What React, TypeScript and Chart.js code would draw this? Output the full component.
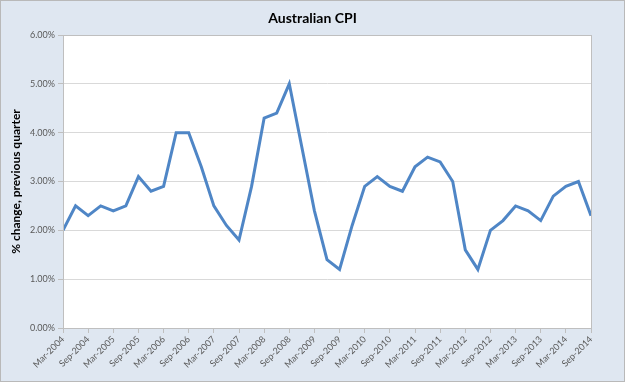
import React, { useEffect, useRef } from "react";
import { Chart, registerables } from "chart.js";

Chart.register(...registerables);

const quarters: string[] = [
  "Mar-2004", "Jun-2004", "Sep-2004", "Dec-2004",
  "Mar-2005", "Jun-2005", "Sep-2005", "Dec-2005",
  "Mar-2006", "Jun-2006", "Sep-2006", "Dec-2006",
  "Mar-2007", "Jun-2007", "Sep-2007", "Dec-2007",
  "Mar-2008", "Jun-2008", "Sep-2008", "Dec-2008",
  "Mar-2009", "Jun-2009", "Sep-2009", "Dec-2009",
  "Mar-2010", "Jun-2010", "Sep-2010", "Dec-2010",
  "Mar-2011", "Jun-2011", "Sep-2011", "Dec-2011",
  "Mar-2012", "Jun-2012", "Sep-2012", "Dec-2012",
  "Mar-2013", "Jun-2013", "Sep-2013", "Dec-2013",
  "Mar-2014", "Jun-2014", "Sep-2014",
];

const cpiChange: number[] = [
  2.0, 2.5, 2.3, 2.5,
  2.4, 2.5, 3.1, 2.8,
  2.9, 4.0, 4.0, 3.3,
  2.5, 2.1, 1.8, 2.9,
  4.3, 4.4, 5.0, 3.7,
  2.4, 1.4, 1.2, 2.1,
  2.9, 3.1, 2.9, 2.8,
  3.3, 3.5, 3.4, 3.0,
  1.6, 1.2, 2.0, 2.2,
  2.5, 2.4, 2.2, 2.7,
  2.9, 3.0, 2.3,
];

const title = "Australian CPI";
const yTitle = "% change, previous quarter";

const FONT = "Lato, 'Open Sans', 'DejaVu Sans', sans-serif";

const frame = {
  id: "plotFrame",
  afterDraw(chart: any) {
    const { ctx, chartArea } = chart;
    ctx.save();
    ctx.strokeStyle = "#BFBFBF";
    ctx.lineWidth = 1;
    ctx.strokeRect(
      Math.round(chartArea.left) + 0.5,
      Math.round(chartArea.top) + 0.5,
      Math.round(chartArea.right - chartArea.left),
      Math.round(chartArea.bottom - chartArea.top)
    );
    ctx.restore();
  },
};

const whitePlot = {
  id: "whitePlot",
  beforeDraw(chart: any) {
    const { ctx, chartArea } = chart;
    ctx.save();
    ctx.fillStyle = "#FFFFFF";
    ctx.fillRect(chartArea.left, chartArea.top, chartArea.right - chartArea.left, chartArea.bottom - chartArea.top);
    ctx.restore();
  },
};

const centeredTitle = {
  id: "centeredTitle",
  afterDraw(chart: any) {
    const { ctx } = chart;
    ctx.save();
    ctx.fillStyle = "#000000";
    ctx.font = `bold 14px ${FONT}`;
    ctx.textAlign = "center";
    ctx.textBaseline = "middle";
    ctx.fillText(title, chart.width / 2, 18);
    ctx.restore();
  },
};

export default function App() {
  const ref = useRef<HTMLCanvasElement | null>(null);

  useEffect(() => {
    document.body.style.margin = "0";
    if (!ref.current) return;
    const chart = new Chart(ref.current, {
      type: "line",
      data: {
        datasets: [
          {
            label: "CPI",
            data: cpiChange.map((v, i) => ({ x: i, y: v })),
            borderColor: "#4F86C6",
            borderWidth: 3,
            pointRadius: 0,
            tension: 0,
            fill: false,
          },
        ],
      },
      options: {
        responsive: false,
        animation: false,
        layout: { padding: { left: 0, right: 34, top: 35, bottom: 0 } },
        plugins: {
          legend: { display: false },
          tooltip: { enabled: false },
          title: { display: false },
        },
        scales: {
          x: {
            type: "linear",
            min: 0,
            max: quarters.length - 1,
            afterFit(scale: any) {
              scale.height = 54;
            },
            afterBuildTicks(scale: any) {
              const t = [];
              for (let i = 0; i < quarters.length; i += 2) t.push({ value: i });
              scale.ticks = t;
            },
            ticks: {
              autoSkip: false,
              minRotation: 45,
              maxRotation: 45,
              padding: 1,
              color: "#595959",
              font: { family: FONT, size: 9 },
              callback: (v: any) => quarters[v] ?? "",
            },
            grid: {
              display: true,
              drawOnChartArea: false,
              drawTicks: true,
              tickLength: 5,
              color: "#BFBFBF",
              tickColor: "#BFBFBF",
            },
            border: { display: true, color: "#BFBFBF" },
          },
          y: {
            min: 0,
            max: 6,
            afterFit(scale: any) {
              scale.width = 63;
            },
            ticks: {
              stepSize: 1,
              padding: 3,
              color: "#595959",
              font: { family: FONT, size: 9 },
              callback: (v: any) => Number(v).toFixed(2) + "%",
            },
            grid: {
              color: "#D9D9D9",
              tickColor: "#BFBFBF",
              tickLength: 5,
              drawTicks: true,
            },
            border: { display: true, color: "#BFBFBF" },
            title: {
              display: true,
              text: yTitle,
              color: "#000000",
              font: { family: FONT, size: 12, weight: "bold" },
              padding: { top: 9, bottom: 0 },
            },
          },
        },
      },
      plugins: [whitePlot, frame, centeredTitle],
    });
    return () => chart.destroy();
  }, []);

  return (
    <div
      style={{
        position: "absolute",
        left: 0,
        top: 0,
        width: 625,
        height: 382,
        boxSizing: "border-box",
        background: "#DFE7F1",
        border: "1px solid #B9B9B9",
      }}
    >
      <canvas
        ref={ref}
        width={625}
        height={382}
        style={{ position: "absolute", left: -1, top: -1, width: 625, height: 382 }}
      />
    </div>
  );
}
